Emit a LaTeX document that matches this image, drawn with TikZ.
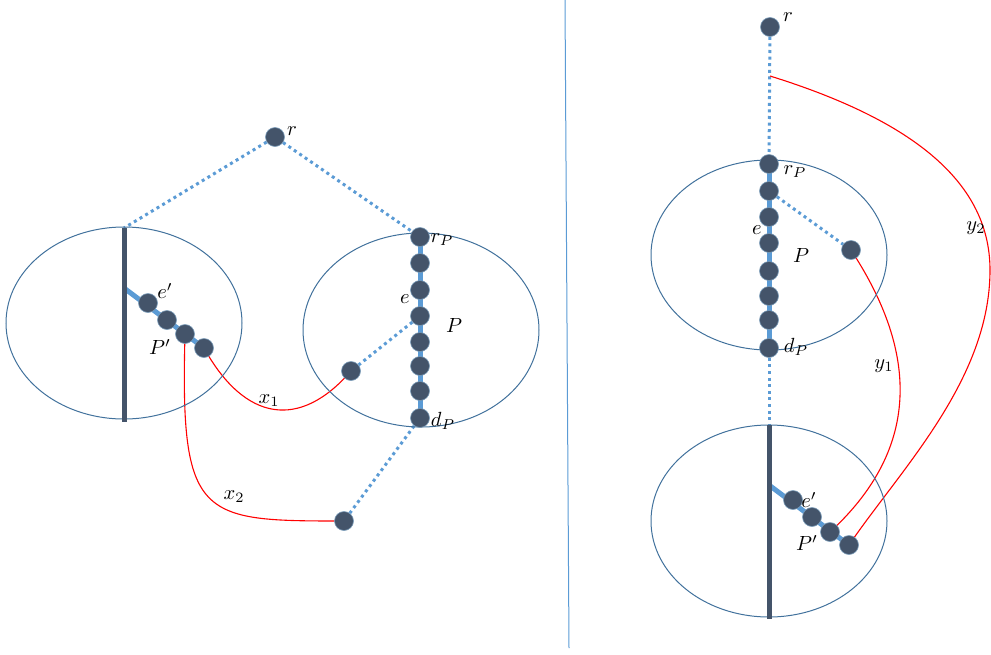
\documentclass[tikz,border=0pt]{standalone}
\usetikzlibrary{calc}
\definecolor{dotfill}{HTML}{44546A}
\definecolor{lblue}{HTML}{5B9BD5}
\definecolor{ellc}{HTML}{41719C}
\pgfdeclarelayer{bg}
\pgfsetlayers{bg,main}
\tikzset{
 vtx/.style={circle,fill=dotfill,draw=ellc!70,line width=0.6pt,minimum size=19pt,inner sep=0pt},
 dotline/.style={lblue,line width=3pt,dash pattern=on 3pt off 3.6pt},
 chainline/.style={lblue,line width=5pt},
 barline/.style={dotfill,line width=5pt},
 ell/.style={ellc,line width=1pt},
 rline/.style={red,line width=1.1pt},
 lbl/.style={font=\normalsize,inner sep=0pt,scale=2.05},
 divline/.style={lblue,line width=1pt}
}
\begin{document}
\begin{tikzpicture}[x=1pt,y=-1pt]
\useasboundingbox (0,0) rectangle (991,654);
% divider
\coordinate (dt) at (565,0);
\coordinate (db) at (569,648);
\draw[divline] (dt) -- (db);

% ================= LEFT =================
\draw[ell] (124,323) ellipse [x radius=118pt, y radius=96pt];
\draw[ell] (421,330) ellipse [x radius=118pt, y radius=97pt];
\coordinate (Lbt) at (124,228);
\coordinate (Lbb) at (124,422);
\coordinate (Lpt) at (124,288);
\draw[barline] (Lbt) -- (Lbb);

\node[vtx] (Lr) at (275,137) {};
\foreach \i/\y in {1/237,2/263,3/290,4/316,5/342,6/366,7/391,8/418}
  \node[vtx] (L\i) at (420,\y) {};
\node[vtx] (Lp1) at (148,303) {};
\node[vtx] (Lp2) at (167,320) {};
\node[vtx] (Lp3) at (185,334) {};
\node[vtx] (Lp4) at (204,348) {};
\node[vtx] (Lu) at (351,371) {};
\node[vtx] (Lw) at (344,521) {};

\begin{pgfonlayer}{bg}
\draw[chainline] (L1.center) -- (L8.center);
\draw[chainline] (Lpt) -- (Lp4.center);
\draw[dotline] (Lr) -- (Lbt);
\draw[dotline] (Lr) -- (L1);
\draw[dotline] (L4) -- (Lu);
\draw[dotline] (L8) -- (Lw);
\draw[rline] (Lp4.center) .. controls (245,422) and (300,430) .. (Lu.center);
\draw[rline] (Lp3.center) .. controls (180,520) and (200,521) .. (Lw.center);
\end{pgfonlayer}

\node[lbl] (tLr) at (292,131) {$r$};
\node[lbl] (tLrp) at (442,240) {$r_P$};
\node[lbl] (tLe) at (405,299) {$e$};
\node[lbl] (tLP) at (454,325) {$P$};
\node[lbl] (tLdp) at (443,421) {$d_P$};
\node[lbl] (tLe2) at (165,291) {$e'$};
\node[lbl] (tLP2) at (160,347) {$P'$};
\node[lbl] (tx1) at (269,401) {$x_1$};
\node[lbl] (tx2) at (234,497) {$x_2$};

% ================= RIGHT =================
\draw[ell] (769,255) ellipse [x radius=118pt, y radius=95pt];
\draw[ell] (769,521) ellipse [x radius=118pt, y radius=96pt];
\coordinate (Rbt) at (769,425);
\coordinate (Rbb) at (769,619);
\coordinate (Rpt) at (769,485);
\coordinate (Rk) at (770,76);
\draw[barline] (Rbt) -- (Rbb);

\node[vtx] (Rr) at (770,27) {};
\foreach \i/\y in {1/164,2/191,3/217,4/243,5/271,6/296,7/320,8/348}
  \node[vtx] (R\i) at (769,\y) {};
\node[vtx] (Rp1) at (793,500) {};
\node[vtx] (Rp2) at (812,517) {};
\node[vtx] (Rp3) at (830,532) {};
\node[vtx] (Rp4) at (849,545) {};
\node[vtx] (Ru) at (851,250) {};

\begin{pgfonlayer}{bg}
\draw[chainline] (R1.center) -- (R8.center);
\draw[chainline] (Rpt) -- (Rp4.center);
\draw[dotline] (Rr) -- (R1);
\draw[dotline] (R8) -- (Rbt);
\draw[dotline] (R2) -- (Ru);
\draw[rline] (Ru.center) .. controls (910,340) and (930,440) .. (Rp3.center);
\draw[rline] (Rk) .. controls (905,118) and (990,178) .. (990,270) .. controls (990,380) and (900,470) .. (Rp4.center);
\end{pgfonlayer}

\node[lbl] (tRr) at (788,17) {$r$};
\node[lbl] (tRrp) at (795,172) {$r_P$};
\node[lbl] (tRe) at (757,230) {$e$};
\node[lbl] (tRP) at (801,255) {$P$};
\node[lbl] (tRdp) at (796,347) {$d_P$};
\node[lbl] (tRe2) at (809,500) {$e'$};
\node[lbl] (tRP2) at (807,543) {$P'$};
\node[lbl] (ty1) at (884,366) {$y_1$};
\node[lbl] (ty2) at (976,228) {$y_2$};
\end{tikzpicture}
\end{document}
